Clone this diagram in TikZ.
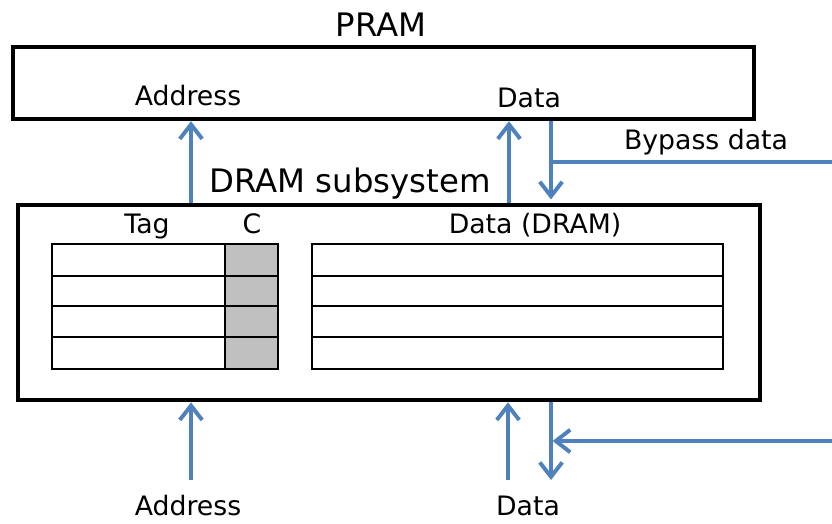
\documentclass[tikz,border=0pt]{standalone}
\usepackage{fontspec}
\setmainfont{DejaVu Sans}
\usetikzlibrary{arrows.meta,positioning}
\definecolor{flowblue}{HTML}{4F81BD}
\definecolor{cellgray}{HTML}{C0C0C0}

\begin{document}
\begin{tikzpicture}[x=0.025cm,y=-0.025cm,
  box/.style={draw,line width=3.2pt,inner sep=0},
  lbl/.style={font=\fontsize{19}{20}\selectfont,inner sep=0,text height=0.72em,text depth=0.2em},
  ttl/.style={font=\fontsize{23}{24}\selectfont,inner sep=0,text height=0.72em,text depth=0.2em},
  flow/.style={-{Straight Barb[length=3.6mm,width=5.6mm]},flowblue,line width=2.8pt},
  cell/.style={draw,line width=1.1pt}]
\useasboundingbox (0,0) rectangle (832,524);

% boxes
\node[box,minimum width=18.53cm,minimum height=1.8cm] (pram) at (383.5,83) {};
\node[box,minimum width=18.55cm,minimum height=4.88cm] (dram) at (389,302.5) {};
\node[ttl] (pramt) at (381,33) {PRAM};
\node[ttl] (dramt) at (350,189) {DRAM subsystem};

% labels
\node[lbl] (paddr) at (188,102) {Address};
\node[lbl] (pdata) at (529,104) {Data};
\node[lbl] (tagl) at (147,230) {Tag};
\node[lbl] (cl) at (252,230) {C};
\node[lbl] (datal) at (535,230) {Data (DRAM)};
\node[lbl] (bypl) at (706,146) {Bypass data};
\node[lbl] (baddr) at (188,512) {Address};
\node[lbl] (bdata) at (528,512) {Data};

% tag, C and data arrays
\draw[cell] (52,244) rectangle (225,369);
\draw[cell,fill=cellgray] (225,244) rectangle (278,369);
\draw[cell] (312,244) rectangle (723,369);
\foreach \y in {276,306,337}
  \draw[cell] (52,\y) -- (278,\y) (312,\y) -- (723,\y);

% connector positions
\coordinate (ax) at (191,0);
\coordinate (dux) at (509,0);
\coordinate (ddx) at (551,0);
\coordinate (bypin) at (832,162);
\coordinate (wrin) at (832,441);
\coordinate (aend) at (191,480);
\coordinate (duend) at (508,480);
\coordinate (ddend) at (551,480);

% upper connectors
\draw[flow] (dram.north -| ax) -- (pram.south -| ax);
\draw[flow] (dram.north -| dux) -- (pram.south -| dux);
\draw[flow] (pram.south -| ddx) -- ([yshift=0.08cm]dram.north -| ddx);
\draw[flowblue,line width=2.8pt] (bypin) -- (bypin -| ddx);

% lower connectors
\draw[flow] (aend) -- (dram.south -| aend);
\draw[flow] (duend) -- (dram.south -| duend);
\draw[flow] (dram.south -| ddend) -- (ddend);
\draw[flow] (wrin) -- ([xshift=0.04cm]wrin -| ddend);
\end{tikzpicture}
\end{document}
